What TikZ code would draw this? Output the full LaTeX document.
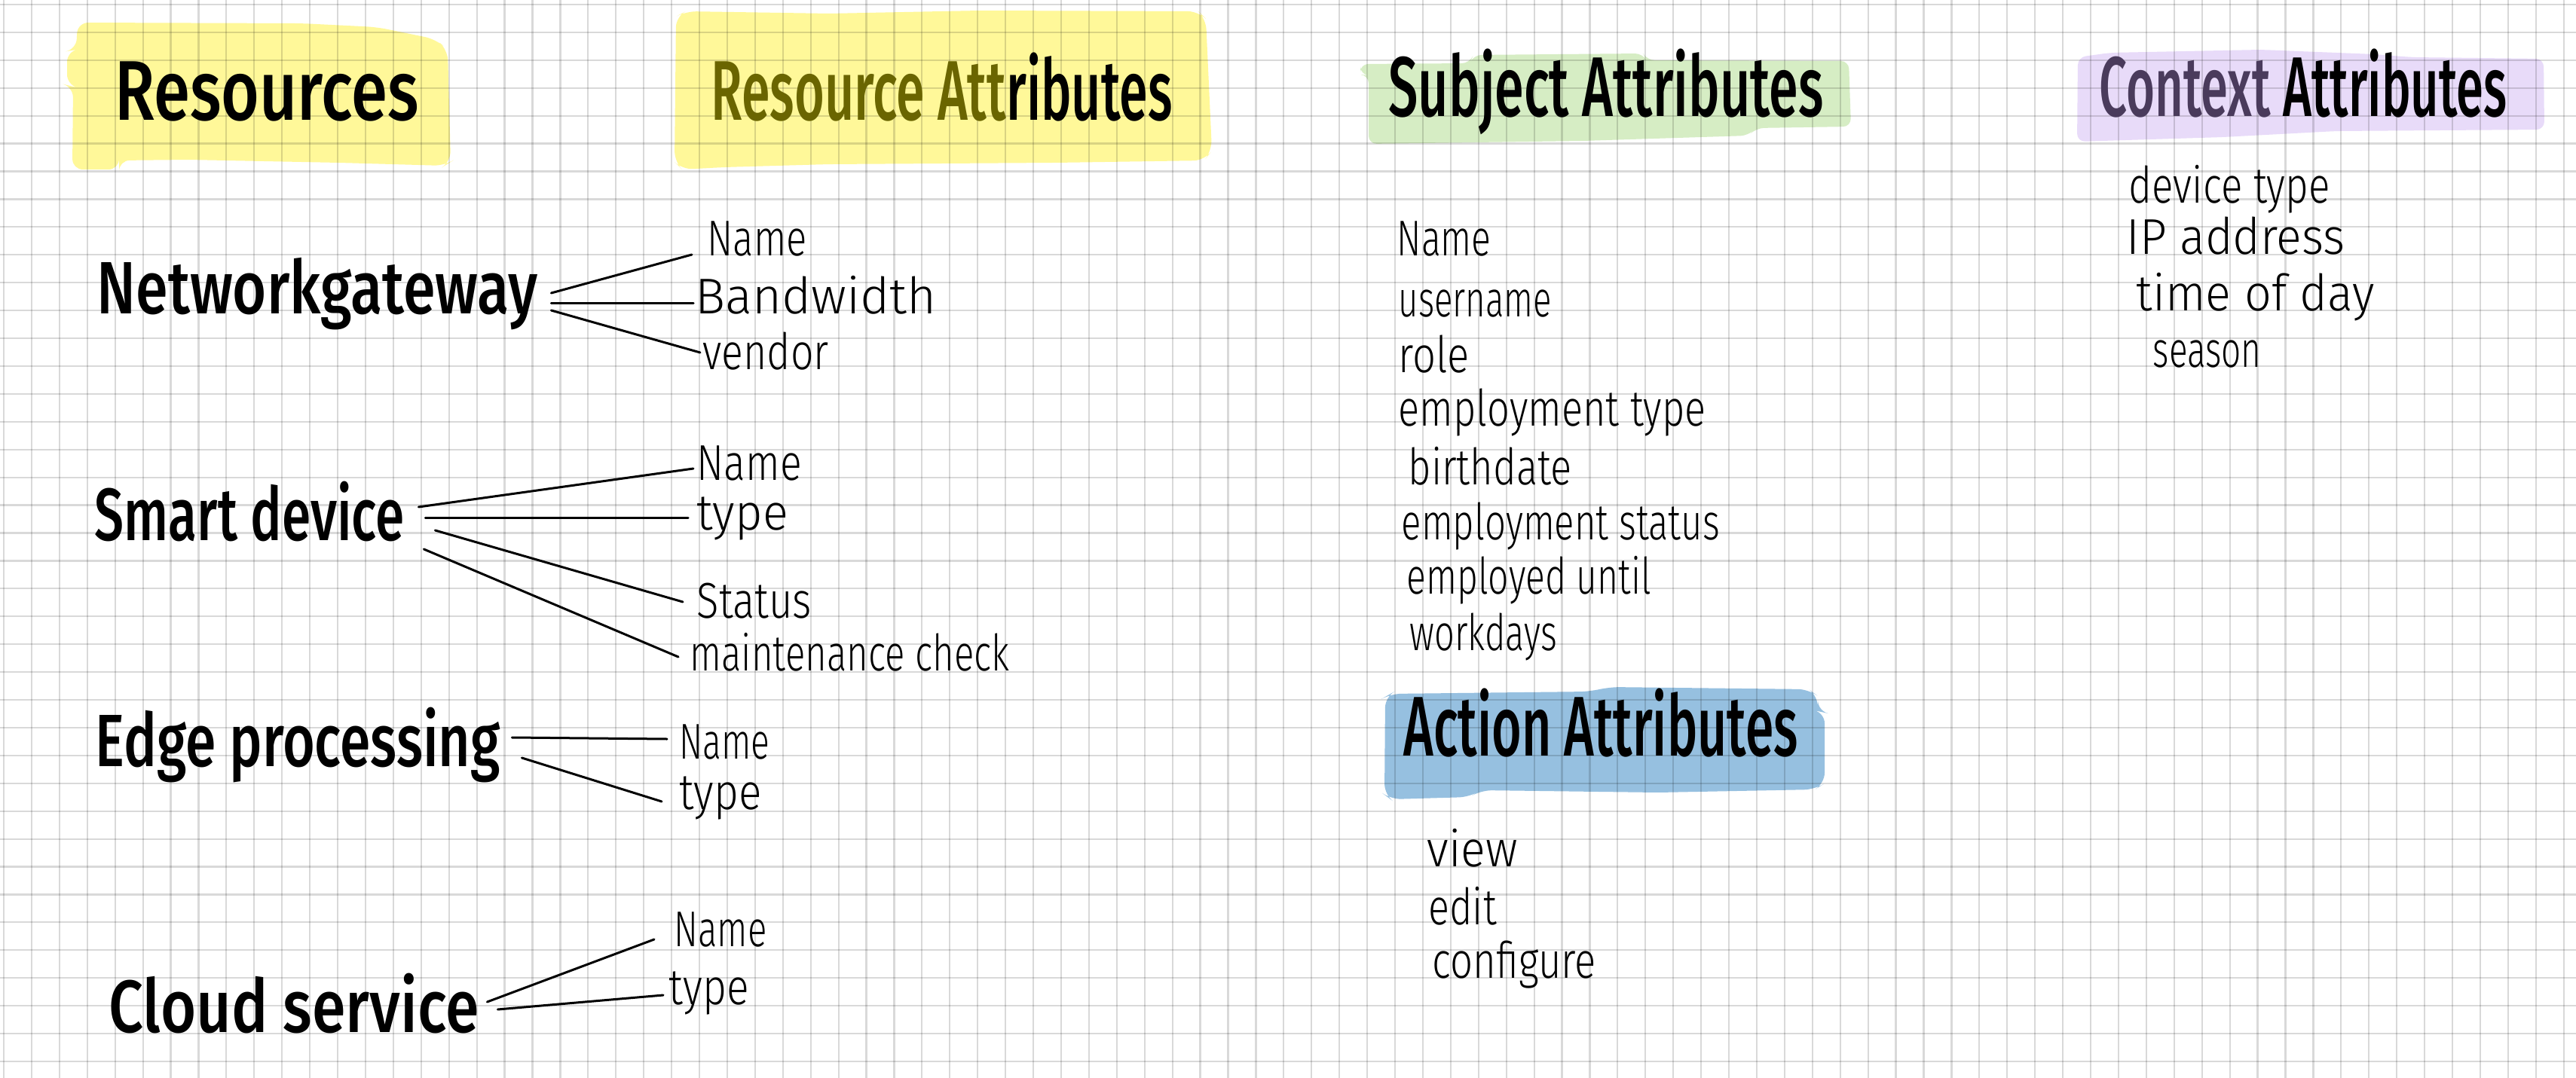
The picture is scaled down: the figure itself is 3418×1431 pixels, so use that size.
\documentclass[tikz,border=0pt]{standalone}
\usepackage{fontspec}
\usepackage{graphicx}
\setmainfont{Fira Sans Light}
\newfontfamily\markfont{Fira Sans Medium}
\definecolor{hlyellow}{HTML}{FFF899}
\definecolor{hlgreen}{HTML}{D6EDC4}
\definecolor{hlpurple}{HTML}{E8DBF9}
\definecolor{hlblue}{HTML}{96C0E0}
\definecolor{olivepen}{HTML}{6A6500}
\definecolor{plumpen}{HTML}{4A3B5C}
\newlength\pxu \setlength\pxu{0.1mm}
% squeeze a text to a given width (in px) keeping its height
\newcommand\hw[2]{\resizebox{#1\pxu}{\height}{#2}}
\tikzset{
  sk/.style={x=0.1mm,y=-0.1mm},
  gridline/.style={draw=black,opacity=.15,line width=.22mm},
  hand/.style={anchor=base west,inner sep=0pt},
  head/.style={hand,font=\markfont\fontsize{32}{32}\selectfont},
  res/.style={hand,font=\markfont\fontsize{28}{28}\selectfont},
  attr/.style={hand,font=\fontsize{19}{19}\selectfont},
  link/.style={line width=.3mm,line cap=round}
}

\begin{document}
\begin{tikzpicture}[sk]
  \fill[white] (0,0) rectangle (3418,1431);
  \useasboundingbox (0,0) rectangle (3418,1431);
  % marker highlights
  \fill[hlyellow,rounded corners=4pt] (103,30)--(400,31)--(500,36)--(578,52)--(594,66)--(598,215)--(590,220)--(450,216)--(250,212)--(158,213)--(158,225)--(96,225)--(97,115)--(89,113)--(89,68)--(101,66)--cycle;
  \fill[hlyellow,rounded corners=4pt] (897,22)--(910,15)--(1100,18)--(1300,14)--(1590,15)--(1600,25)--(1608,200)--(1598,213)--(1400,216)--(1100,218)--(960,222)--(905,225)--(895,215)--cycle;
  \fill[hlgreen,rounded corners=3pt] (1805,85)--(1950,84)--(1955,73)--(2180,71)--(2185,80)--(2453,81)--(2456,168)--(2330,170)--(2320,180)--(2100,187)--(1816,191)--(1816,100)--(1805,99)--cycle;
  \fill[hlpurple,rounded corners=3pt] (2757,76)--(2800,70)--(3000,66)--(3150,72)--(3200,76)--(3375,78)--(3376,172)--(3100,174)--(2950,182)--(2756,188)--cycle;
  \fill[hlblue,rounded corners=4pt] (1838,925)--(1845,921)--(2110,918)--(2135,912)--(2400,915)--(2412,924)--(2412,944)--(2421,946)--(2421,1040)--(2408,1048)--(2200,1052)--(1965,1049)--(1950,1058)--(1845,1061)--(1837,1055)--cycle;
  % squared paper
  \foreach \k in {0,...,92}{\draw[gridline] ({5+36.92*\k},0)--({5+36.92*\k},1431);}
  \foreach \k in {0,...,38}{\draw[gridline] (0,{6+36.92*\k})--(3418,{6+36.92*\k});}
  % headings
  \node[head] (reshd) at (152,160) {\hw{403}{Resources}};
  \node[head] (rattrhd) at (943,160) {\hw{612}{\color{olivepen}Resource Att\color{black}ributes}};
  \node[head] (subjhd) at (1842,155) {\hw{577}{Subject Attributes}};
  \node[head] (ctxhd) at (2785,155) {\hw{541}{\color{plumpen}Context \color{black}Attributes}};
  \node[head] (acthd) at (1862,1003) {\hw{523}{Action Attributes}};
  % resources
  \node[res] (ng) at (128,417) {\hw{585}{Networkgateway}};
  \node[res] (sd) at (125,717) {\hw{411}{Smart device}};
  \node[res] (ep) at (126,1017) {\hw{537}{Edge processing}};
  \node[res] (cs) at (144,1370) {\hw{491}{Cloud service}};
  % resource attributes
  \node[attr] (ngA) at (938,340) {\hw{132}{Name}};
  \node[attr] (ngB) at (922,417) {\hw{320}{Bandwidth}};
  \node[attr] (ngC) at (932,490) {\hw{167}{vendor}};
  \node[attr] (sdA) at (924,637) {\hw{139}{Name}};
  \node[attr] (sdB) at (924,703) {\hw{121}{type}};
  \node[attr] (sdC) at (924,820) {\hw{152}{Status}};
  \node[attr] (sdD) at (915,890) {\hw{424}{maintenance check}};
  \node[attr] (epA) at (901,1007) {\hw{120}{Name}};
  \node[attr] (epB) at (901,1074) {\hw{109}{type}};
  \node[attr] (csA) at (894,1256) {\hw{123}{Name}};
  \node[attr] (csB) at (887,1333) {\hw{106}{type}};
  \foreach \a/\sa/\b/\sb in {ng/{17,-28}/ngA/{-20,-2},ng/{17,-14}/ngB/{-2,-14},ng/{17,-5}/ngC/{-3,-22},
    sd/{18,-44}/sdA/{-4,-15},sd/{27,-30}/sdB/{-11,-16},sd/{40,-13}/sdC/{-18,-21},sd/{25,12}/sdD/{-15,-18},
    ep/{15,-38}/epA/{-16,-26},ep/{28,-11}/epB/{-23,-10},cs/{10,-40}/csA/{-26,-9},cs/{24,-30}/csB/{-7,-12}}
    {\draw[link] ([shift={(\sa)}]\a.base east)--([shift={(\sb)}]\b.base west);}
  % subject, context and action lists
  \foreach \x/\y/\w/\txt [count=\i] in {1853/340/125/Name,1855/420/203/username,1855/494/94/role,
    1855/565/408/employment type,1868/643/217/birthdate,1859/716/422/employment status,
    1866/788/324/employed until,1870/863/195/workdays}
    {\node[attr] (subj\i) at (\x,\y) {\hw{\w}{\txt}};}
  \foreach \x/\y/\w/\txt [count=\i] in {2824/270/267/device type,2821/337/290/IP address,
    2834/413/316/time of day,2856/487/144/season}
    {\node[attr] (ctx\i) at (\x,\y) {\hw{\w}{\txt}};}
  \foreach \x/\y/\w/\txt [count=\i] in {1893/1150/120/view,1895/1227/90/edit,1900/1298/217/configure}
    {\node[attr] (act\i) at (\x,\y) {\hw{\w}{\txt}};}
\end{tikzpicture}
\end{document}
